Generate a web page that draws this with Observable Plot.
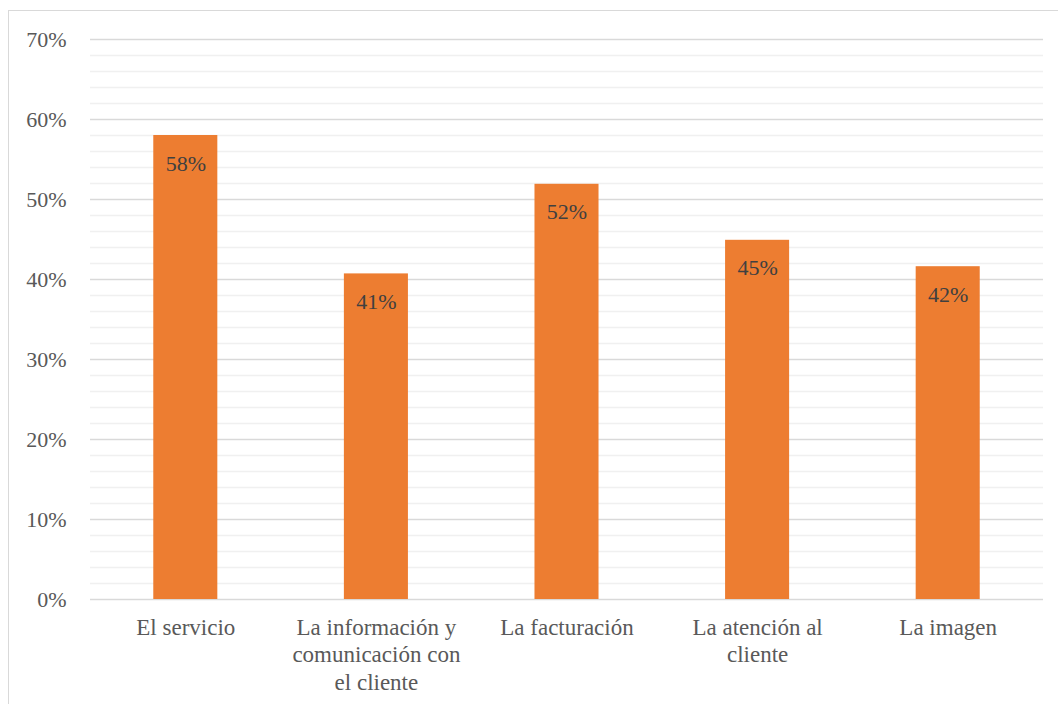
<!DOCTYPE html>
<html>
<head>
<meta charset="utf-8">
<script src="https://cdn.jsdelivr.net/npm/d3@7"></script>
<script src="https://cdn.jsdelivr.net/npm/@observablehq/plot@0.6"></script>
<style>
  html, body { margin: 0; padding: 0; background: #fff; overflow: hidden; }
  #wrap { position: relative; width: 1058px; height: 704px; }
  #frame { position: absolute; left: 8px; top: 10px; width: 1200px; height: 900px;
           border: 1.5px solid #d9d9d9; box-sizing: border-box; pointer-events: none; }
  #chart { position: absolute; left: 0; top: 0; }
  #chart svg, #chart svg text, #chart svg g { font-family: "Liberation Serif", "Times New Roman", serif !important; }
</style>
</head>
<body>
<div id="wrap"><div id="chart"></div><div id="frame"></div></div>
<script>
const categories = [
  "El servicio",
  "La información y\ncomunicación con\nel cliente",
  "La facturación",
  "La atención al\ncliente",
  "La imagen"
];
const values = [0.58, 0.407, 0.519, 0.449, 0.416];
const majorTicks = [0, 0.1, 0.2, 0.3, 0.4, 0.5, 0.6, 0.7];
const minorTicks = d3.range(0, 71, 2).map(d => d / 100).filter(d => Math.round(d * 100) % 10 !== 0);

const data = categories.map((c, i) => ({category: c, value: values[i]}));
const fmt = d3.format(".0%");

const chart = Plot.plot({
  width: 1058,
  height: 704,
  marginTop: 39,
  marginBottom: 105,
  marginLeft: 90,
  marginRight: 15,
  style: {fontSize: "20px", color: "#595959", background: "transparent"},
  x: {domain: categories, paddingInner: 0.664, paddingOuter: 0.332, round: false, label: null},
  y: {domain: [0, 0.7], label: null},
  marks: [
    Plot.gridY(minorTicks, {stroke: "#f0f0f0", strokeOpacity: 1, strokeWidth: 1.5}),
    Plot.gridY(majorTicks, {stroke: "#d9d9d9", strokeOpacity: 1, strokeWidth: 1.5}),
    Plot.barY(data, {x: "category", y: "value", fill: "#ED7D31"}),
    Plot.text(data, {x: "category", y: "value", text: d => fmt(d.value), dy: 28, fill: "#404040", fontSize: 22}),
    Plot.axisY(majorTicks, {tickSize: 0, tickPadding: 24, tickFormat: fmt, fill: "#595959", fontSize: 22}),
    Plot.axisX({tickSize: 0, tickPadding: 16, fill: "#595959", fontSize: 23, lineHeight: 1.19})
  ]
});
document.getElementById("chart").appendChild(chart);
</script>
</body>
</html>
